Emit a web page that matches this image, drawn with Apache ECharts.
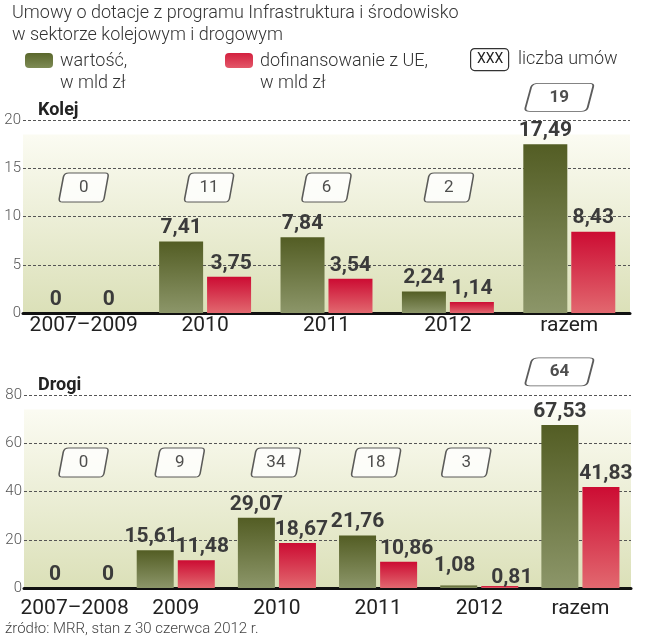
<!DOCTYPE html>
<html>
<head>
<meta charset="utf-8">
<script src="https://cdn.jsdelivr.net/npm/echarts@6/dist/echarts.min.js"></script>
<style>
html,body{margin:0;padding:0;background:#fff;}
#c{width:649px;height:640px;}
</style>
</head>
<body>
<div id="c"></div>
<script>
// ---- data ----
var kolejCategories = ['2007–2009', '2010', '2011', '2012', 'razem'];
var kolejValue = [0, 7.41, 7.84, 2.24, 17.49];
var kolejEU = [0, 3.75, 3.54, 1.14, 8.43];
var kolejCount = [0, 11, 6, 2, 19];

var drogiCategories = ['2007–2008', '2009', '2010', '2011', '2012', 'razem'];
var drogiValue = [0, 15.61, 29.07, 21.76, 1.08, 67.53];
var drogiEU = [0, 11.48, 18.67, 10.86, 0.81, 41.83];
var drogiCount = [0, 9, 34, 18, 3, 64];

var kolejTicks = { min: 0, max: 20, interval: 5 };
var drogiTicks = { min: 0, max: 80, interval: 20 };

// ---- layout / style (not data) ----
var FONT = 'Roboto, "Noto Sans", sans-serif';
var kolejBoxShift = [0, 4, 0, 1, -10];
var drogiBoxShift = [9, 4, -1, -2, -13, -21];
var kolejBoxLevel = 13, kolejTotalBoxLevel = 22.35;
var drogiBoxLevel = 52, drogiTotalBoxLevel = 89.6;
// label nudges in pixels [dx, dy]
var kolejValueLabelShift = [[-4, 0], [0, 0], [0, 0], [0, 0], [0, 0]];
var kolejEULabelShift = [[1, 0], [2, 0], [0, 0], [0, 0], [0, 0]];
var drogiValueLabelShift = [[1, 0], [-4, 0], [0, 0], [0, 0], [-4, -6], [0, 0]];
var drogiEULabelShift = [[13, 0], [6, 0], [4, 0], [8, 0], [12, 5], [5, 0]];

var BOX_PATH = 'path://M10 0 L47 0 Q50.5 0 49.8 3.5 L45.8 26 Q45 30 41 30 L3.5 30 Q-0.3 30 0.3 26.5 L4.5 4 Q5.5 0 10 0 Z';

var greenGrad = { type: 'linear', x: 0, y: 0, x2: 0, y2: 1,
  colorStops: [{ offset: 0, color: '#535d24' }, { offset: 1, color: '#8c9669' }] };
var redGrad = { type: 'linear', x: 0, y: 0, x2: 0, y2: 1,
  colorStops: [{ offset: 0, color: '#cc0c33' }, { offset: 1, color: '#e2686f' }] };
var bgGrad = { type: 'linear', x: 0, y: 0, x2: 0, y2: 1,
  colorStops: [{ offset: 0, color: '#ffffff' }, { offset: 0.07, color: '#ffffff' },
               { offset: 0.08, color: '#fbfbf2' }, { offset: 1, color: '#dbe0b8' }] };

function fmt(v) { return v === 0 ? '0' : v.toFixed(2).replace('.', ','); }

function barSeries(data, idx, color, width, gap, shifts) {
  return {
    type: 'bar', xAxisIndex: idx, yAxisIndex: idx, barWidth: width, barGap: gap, silent: true,
    data: data.map(function (v, i) {
      return { value: v, label: { offset: shifts[i] } };
    }),
    itemStyle: { color: color },
    label: { show: true, position: 'top', distance: 3,
      formatter: function (p) { return fmt(p.value); },
      fontFamily: FONT, fontWeight: 'bold', fontSize: 21, color: '#3b3b3b' }
  };
}

function boxSeries(counts, idx, level, totalLevel, shifts) {
  var n = counts.length;
  return {
    type: 'scatter', xAxisIndex: idx, yAxisIndex: idx, clip: false, silent: true, z: 5,
    symbol: BOX_PATH,
    itemStyle: { color: '#ffffff', borderColor: '#333333', borderWidth: 1.2 },
    data: counts.map(function (c, i) {
      var last = i === n - 1;
      return {
        value: [i, last ? totalLevel : level],
        symbolSize: last ? [68, 28] : [49, 29],
        symbolOffset: [shifts[i], 0],
        label: { fontWeight: last ? 'bold' : 'normal' }
      };
    }),
    label: { show: true, position: 'inside',
      formatter: function (p) { return String(counts[p.dataIndex]); },
      fontFamily: FONT, fontSize: 17, color: '#222' }
  };
}

function catAxis(cats, idx, margin) {
  return {
    type: 'category', gridIndex: idx, data: cats, boundaryGap: true,
    axisLine: { show: true, lineStyle: { color: '#111', width: 3 } },
    axisTick: { show: false },
    axisLabel: { fontFamily: FONT, fontSize: 21, color: '#222', margin: margin, interval: 0 }
  };
}

function valAxis(t, idx) {
  return {
    type: 'value', gridIndex: idx, min: t.min, max: t.max, interval: t.interval,
    axisLine: { show: false }, axisTick: { show: false },
    axisLabel: { fontFamily: FONT, fontWeight: 300, fontSize: 15, color: '#555', margin: 2 },
    splitLine: { show: true, lineStyle: { color: '#555', width: 1, type: [3, 2] } }
  };
}

var chart = echarts.init(document.getElementById('c'), null, { renderer: 'canvas' });
chart.setOption({
  animation: false,
  backgroundColor: '#ffffff',
  title: [
    { text: 'Umowy o dotacje z programu Infrastruktura i środowisko\nw sektorze kolejowym i drogowym',
      left: 12, top: 2, padding: 0,
      textStyle: { fontFamily: FONT, fontSize: 18, lineHeight: 22, fontWeight: 300, color: '#333' } },
    { text: 'Kolej', left: 38, top: 101, padding: 0,
      textStyle: { fontFamily: FONT, fontSize: 18, fontWeight: 'bold', color: '#222' } },
    { text: 'Drogi', left: 38, top: 376, padding: 0,
      textStyle: { fontFamily: FONT, fontSize: 18, fontWeight: 'bold', color: '#222' } },
    { text: 'źródło: MRR, stan z 30 czerwca 2012 r.', left: 5, top: 622, padding: 0,
      textStyle: { fontFamily: FONT, fontSize: 15, fontWeight: 300, color: '#444' } }
  ],
  grid: [
    { left: 23, right: 19, top: 120, height: 193, show: true, borderWidth: 0, backgroundColor: bgGrad },
    { left: 24, right: 18, top: 395, height: 193, show: true, borderWidth: 0, backgroundColor: bgGrad }
  ],
  xAxis: [catAxis(kolejCategories, 0, 2), catAxis(drogiCategories, 1, 10)],
  yAxis: [valAxis(kolejTicks, 0), valAxis(drogiTicks, 1)],
  series: [
    barSeries(kolejValue, 0, greenGrad, 44, '9%', kolejValueLabelShift),
    barSeries(kolejEU, 0, redGrad, 44, '9%', kolejEULabelShift),
    boxSeries(kolejCount, 0, kolejBoxLevel, kolejTotalBoxLevel, kolejBoxShift),
    barSeries(drogiValue, 1, greenGrad, 37, '11%', drogiValueLabelShift),
    barSeries(drogiEU, 1, redGrad, 37, '11%', drogiEULabelShift),
    boxSeries(drogiCount, 1, drogiBoxLevel, drogiTotalBoxLevel, drogiBoxShift)
  ],
  graphic: [
    { type: 'rect', left: 25, top: 53, shape: { width: 28, height: 15, r: 4 },
      style: { fill: { type: 'linear', x: 0, y: 0, x2: 0, y2: 1,
        colorStops: [{ offset: 0, color: '#5a672c' }, { offset: 1, color: '#7e8b55' }] } } },
    { type: 'text', left: 60, top: 50,
      style: { text: 'wartość,\nw mld zł', font: '300 18px ' + FONT, lineHeight: 22, fill: '#333' } },
    { type: 'rect', left: 225, top: 53, shape: { width: 28, height: 15, r: 4 },
      style: { fill: { type: 'linear', x: 0, y: 0, x2: 0, y2: 1,
        colorStops: [{ offset: 0, color: '#d3203f' }, { offset: 1, color: '#e35869' }] } } },
    { type: 'text', left: 260, top: 50,
      style: { text: 'dofinansowanie z UE,\nw mld zł', font: '300 18px ' + FONT, lineHeight: 22, fill: '#333' } },
    { type: 'rect', left: 470, top: 48, shape: { width: 38, height: 22, r: 4 },
      style: { fill: '#fff', stroke: '#333', lineWidth: 1.2 } },
    { type: 'text', left: 477, top: 52,
      style: { text: 'XXX', font: '14px ' + FONT, fill: '#222' } },
    { type: 'text', left: 518, top: 50,
      style: { text: 'liczba umów', font: '300 18px ' + FONT, fill: '#333' } }
  ]
});
</script>
</body>
</html>
